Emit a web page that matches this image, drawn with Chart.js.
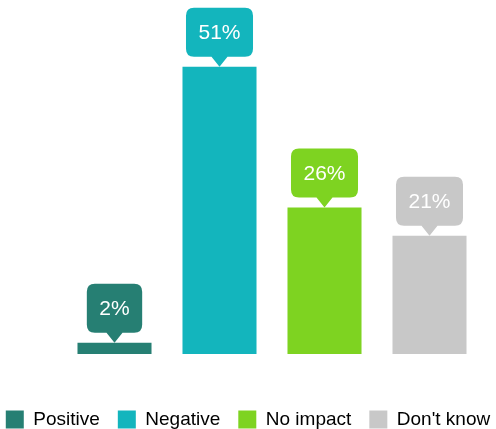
<!DOCTYPE html>
<html lang="en">
<head>
  <meta charset="UTF-8">
  <title>Impact survey</title>
  <script src="https://cdn.jsdelivr.net/npm/chart.js"></script>
  <style>
    html, body { margin: 0; padding: 0; background: #fff; }
    #wrap { width: 496px; height: 429px; }
  </style>
</head>
<body>
  <div id="wrap"><canvas id="chart"></canvas></div>
  <script>
    const categories = ['Positive', 'Negative', 'No impact', "Don't know"];
    const shares = [2, 51, 26, 21];
    const colors = ['#267f73', '#13b5bd', '#7ed321', '#c8c8c8'];

    const FONT = "'Liberation Sans', Arial, sans-serif";

    // speech-bubble label sitting on top of each bar
    const bubbles = {
      id: 'bubbles',
      afterDatasetsDraw(chart) {
        const ctx = chart.ctx;
        const meta = chart.getDatasetMeta(0);
        ctx.save();
        ctx.font = '21px ' + FONT;
        meta.data.forEach((bar, i) => {
          const text = shares[i] + '%';
          const w = ctx.measureText(text).width + 25;
          const h = 49, tip = 10, r = 8;
          const x0 = bar.x - w / 2, y1 = bar.y - tip, y0 = y1 - h;
          ctx.fillStyle = colors[i];
          ctx.beginPath();
          ctx.moveTo(x0 + r, y0);
          ctx.lineTo(x0 + w - r, y0);
          ctx.quadraticCurveTo(x0 + w, y0, x0 + w, y0 + r);
          ctx.lineTo(x0 + w, y1 - r);
          ctx.quadraticCurveTo(x0 + w, y1, x0 + w - r, y1);
          ctx.lineTo(bar.x + 8, y1);
          ctx.lineTo(bar.x, bar.y);
          ctx.lineTo(bar.x - 8, y1);
          ctx.lineTo(x0 + r, y1);
          ctx.quadraticCurveTo(x0, y1, x0, y1 - r);
          ctx.lineTo(x0, y0 + r);
          ctx.quadraticCurveTo(x0, y0, x0 + r, y0);
          ctx.closePath();
          ctx.fill();
          ctx.fillStyle = '#ffffff';
          ctx.textAlign = 'center';
          ctx.textBaseline = 'middle';
          ctx.fillText(text, bar.x, y0 + h / 2 + 1);
        });
        ctx.restore();
      }
    };

    new Chart(document.getElementById('chart'), {
      type: 'bar',
      data: {
        labels: categories,
        datasets: [{
          data: shares,
          backgroundColor: colors,
          barPercentage: 0.705,
          categoryPercentage: 1
        }]
      },
      options: {
        responsive: true,
        maintainAspectRatio: false,
        animation: false,
        // negative sides give the legend room for one row
        layout: { padding: { top: 16, bottom: -10, left: -20, right: -20 } },
        plugins: {
          tooltip: { enabled: false },
          legend: {
            position: 'bottom',
            labels: {
              color: '#1a1a1a',
              font: { family: FONT, size: 19 },
              boxWidth: 18,
              boxHeight: 18,
              padding: 18,
              generateLabels: () => categories.map((c, i) => ({
                text: c, fillStyle: colors[i], strokeStyle: colors[i], lineWidth: 0, index: i
              }))
            }
          }
        },
        scales: {
          x: {
            grid: { display: false },
            border: { display: false },
            ticks: { display: false },
            afterFit: s => { s.height = 38; }
          },
          y: {
            min: 0, max: 60,
            grid: { display: false },
            border: { display: false },
            ticks: { display: false },
            afterFit: s => { s.width = 82; }
          },
          yRight: {
            position: 'right',
            grid: { display: false },
            border: { display: false },
            ticks: { display: false },
            afterFit: s => { s.width = 34; }
          }
        }
      },
      plugins: [bubbles]
    });
  </script>
</body>
</html>
